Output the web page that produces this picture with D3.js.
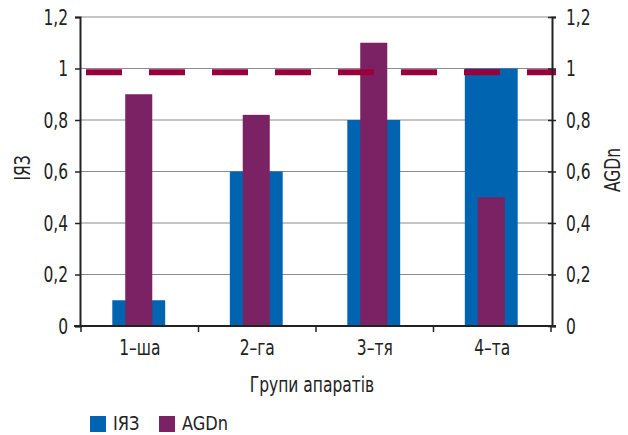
<!DOCTYPE html>
<html><head><meta charset="utf-8">
<script src="https://cdn.jsdelivr.net/npm/d3@7"></script>
<style>
body{margin:0;background:#fff;}
text{font-family:"DejaVu Sans Condensed","DejaVu Sans",sans-serif;fill:#222;}
</style></head>
<body>
<svg id="c" width="628" height="435"></svg>
<script>
const categories = ["1–ша", "2–га", "3–тя", "4–та"];
const seriesIYaZ = [0.1, 0.6, 0.8, 1.0];
const seriesAGDn = [0.9, 0.82, 1.1, 0.5];
const yTicks = [0, 0.2, 0.4, 0.6, 0.8, 1, 1.2];
const yTickLabels = ["0", "0,2", "0,4", "0,6", "0,8", "1", "1,2"];
const referenceLevel = 0.985;
const seriesNames = ["ІЯЗ", "AGDn"];
const xTitle = "Групи апаратів";

const svg = d3.select("#c");
const L = 80, R = 552, T = 17, B = 326;
const x = d3.scaleBand().domain(categories).range([81, 551]).paddingInner(0).paddingOuter(0);
const yL = d3.scaleLinear().domain([0, 1.2]).range([B, T]);
const yR = d3.scaleLinear().domain([0, 1.2]).range([B, T]);
const blue = "#0064b0", purple = "#7a2263", red = "#99003a";
const fs = 21;

function squeeze(sel, origin, k) {
  sel.style("transform-box", "fill-box").style("transform-origin", origin)
     .style("transform", `scaleX(${k || 0.82})`);
}

// gridlines
svg.append("g").selectAll("line").data(yTicks.filter(d => d > 0)).join("line")
  .attr("x1", L).attr("x2", R).attr("y1", d => yL(d)).attr("y2", d => yL(d))
  .attr("stroke", "#8c8c8c").attr("stroke-width", 1.2);

// bars
const bw1 = x.bandwidth() * 0.45, bw2 = x.bandwidth() * 0.23;
svg.append("g").selectAll("rect").data(categories).join("rect")
  .attr("x", (d) => x(d) + x.bandwidth() / 2 - 1 - bw1 / 2)
  .attr("width", bw1)
  .attr("y", (d, i) => yL(seriesIYaZ[i]))
  .attr("height", (d, i) => B - yL(seriesIYaZ[i]))
  .attr("fill", blue);
svg.append("g").selectAll("rect").data(categories).join("rect")
  .attr("x", (d) => x(d) + x.bandwidth() / 2 - 1 - bw2 / 2)
  .attr("width", bw2)
  .attr("y", (d, i) => yR(seriesAGDn[i]))
  .attr("height", (d, i) => B - yR(seriesAGDn[i]))
  .attr("fill", purple);

// reference dashed line
svg.append("line").attr("x1", L).attr("x2", 556)
  .attr("y1", yL(referenceLevel)).attr("y2", yL(referenceLevel))
  .attr("stroke", red).attr("stroke-width", 6)
  .attr("stroke-dasharray", "36,27").attr("stroke-dashoffset", 57);

// left axis
const axL = svg.append("g").attr("transform", `translate(${L},0)`)
  .call(d3.axisLeft(yL).tickValues(yTicks).tickSize(5).tickFormat((d, i) => yTickLabels[i]));
axL.select(".domain").attr("stroke", "#222").attr("stroke-width", 2);
axL.selectAll(".tick line").attr("stroke", "#222").attr("stroke-width", 1.5);
axL.selectAll(".tick text").attr("x", -12).attr("dy", "0.35em")
  .style("font-size", fs + "px").attr("fill", "#222").call(squeeze, "right center");

// right axis
const axR = svg.append("g").attr("transform", `translate(${R},0)`)
  .call(d3.axisRight(yR).tickValues(yTicks).tickSize(4).tickFormat((d, i) => yTickLabels[i]));
axR.select(".domain").attr("stroke", "#222").attr("stroke-width", 2);
axR.selectAll(".tick line").attr("stroke", "#222").attr("stroke-width", 1.5).attr("x1", -4);
axR.selectAll(".tick text").attr("x", 14).attr("dy", "0.35em")
  .style("font-size", fs + "px").attr("fill", "#222").call(squeeze, "left center");

// bottom axis
const axB = svg.append("g").attr("transform", `translate(0,${B})`)
  .call(d3.axisBottom(x).tickSize(0).tickFormat(d => d));
axB.select(".domain").remove();
svg.append("line").attr("x1", L - 6).attr("x2", R + 4).attr("y1", B).attr("y2", B)
  .attr("stroke", "#222").attr("stroke-width", 2);
const bounds = categories.map(c => x(c)).concat([x(categories[categories.length - 1]) + x.bandwidth()]);
svg.append("g").selectAll("line").data(bounds).join("line")
  .attr("x1", d => d).attr("x2", d => d).attr("y1", B).attr("y2", B + 6)
  .attr("stroke", "#222").attr("stroke-width", 1.5);
axB.selectAll(".tick text").attr("y", 29).attr("dy", 0)
  .style("font-size", fs + "px").attr("fill", "#222").call(squeeze, "center");

// axis titles
svg.append("text").attr("x", 312).attr("y", 392).attr("text-anchor", "middle")
  .style("font-size", fs + "px").text(xTitle).call(squeeze, "center");
svg.append("g").attr("transform", "translate(30,168) rotate(-90)")
  .append("text").attr("text-anchor", "middle")
  .style("font-size", fs + "px").text(seriesNames[0]).call(squeeze, "center");
svg.append("g").attr("transform", "translate(620,170) rotate(-90)")
  .append("text").attr("text-anchor", "middle")
  .style("font-size", fs + "px").text(seriesNames[1]).call(squeeze, "center");

// legend
const lg = svg.append("g");
const lx = [90, 159];
[blue, purple].forEach((col, i) => {
  lg.append("rect").attr("x", lx[i]).attr("y", 416).attr("width", 16).attr("height", 16).attr("fill", col);
  lg.append("text").attr("x", lx[i] + 23).attr("y", 430.5).style("font-size", "20px")
    .text(seriesNames[i]).call(squeeze, "left center", 0.9);
});
</script>
</body></html>
